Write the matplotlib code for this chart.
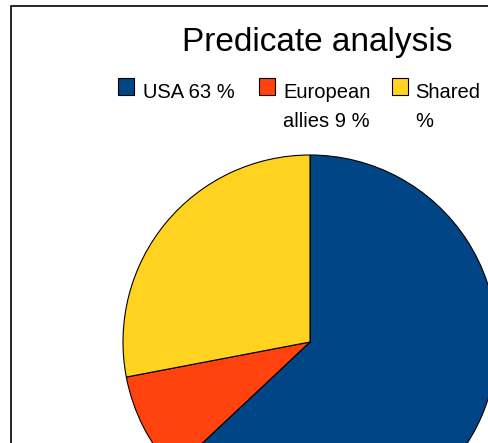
import matplotlib
matplotlib.use("Agg")
import matplotlib.pyplot as plt
from matplotlib.patches import Rectangle

categories = ["USA 63 %", "European\nallies 9 %", "Shared\n%"]
shares = [63, 9, 28]
colors = ["#004586", "#ff420e", "#ffd320"]
title = "Predicate analysis"

W, H = 488, 443
fig = plt.figure(figsize=(W / 100, H / 100), dpi=100)
plt.rcParams["font.family"] = ["Liberation Sans", "DejaVu Sans"]

def fx(px):
    return px / W

def fy(py):
    return 1 - py / H

# outer frame of the chart area (only left and top edges are visible)
fig.add_artist(Rectangle((fx(10.5), fy(600)), fx(600), fy(6) - fy(600),
                         transform=fig.transFigure, fill=False,
                         edgecolor="black", linewidth=1.2))

# pie: centre (310, 342) px, radius 187 px
cx, cy, r = 310, 342, 187
ax = fig.add_axes([fx(cx - r), fy(cy + r), 2 * r / W, 2 * r / H])
ax.pie(shares, colors=colors, startangle=90, counterclock=False,
       wedgeprops=dict(edgecolor="black", linewidth=0.8))
ax.set_xlim(-1, 1)
ax.set_ylim(-1, 1)
ax.set_aspect("equal")
ax.axis("off")

fig.text(fx(317), fy(51), title, fontsize=24, ha="center", va="baseline")

# legend entries, one text per line on fixed baselines
marker_x = [118, 259, 392]
text_x = [143, 283, 415]
for mx, tx, lab, col in zip(marker_x, text_x, categories, colors):
    fig.add_artist(Rectangle((fx(mx), fy(95)), fx(16), fy(78) - fy(95),
                             transform=fig.transFigure, facecolor=col,
                             edgecolor="black", linewidth=0.8))
    for i, line in enumerate(lab.split("\n")):
        fig.text(fx(tx), fy(98 + 29 * i), line, fontsize=14.5,
                 ha="left", va="baseline")

fig.savefig("out.png", dpi=100)
